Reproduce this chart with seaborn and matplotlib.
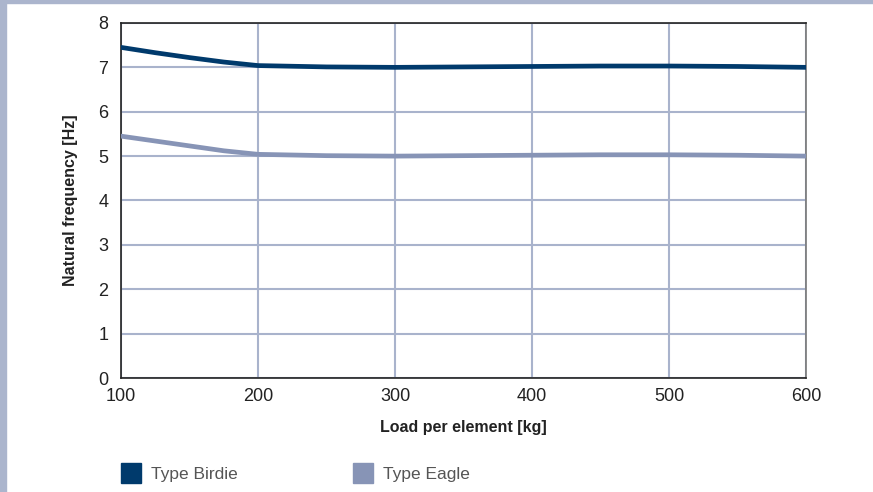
import pandas as pd
import numpy as np
import matplotlib.pyplot as plt
import seaborn as sns
from matplotlib.lines import Line2D
from matplotlib.patches import Rectangle

# values
load = [100, 125, 150, 175, 200, 250, 300, 350, 400, 450, 500, 550, 600]
birdie = [7.45, 7.33, 7.22, 7.12, 7.04, 7.01, 7.00, 7.01, 7.02, 7.03, 7.03, 7.02, 7.00]
eagle = [5.45, 5.34, 5.23, 5.12, 5.04, 5.01, 5.00, 5.01, 5.02, 5.03, 5.03, 5.02, 5.00]
series_names = ['Type Birdie', 'Type Eagle']
x_ticks = [100, 200, 300, 400, 500, 600]
y_ticks = [0, 1, 2, 3, 4, 5, 6, 7, 8]

df = pd.DataFrame({
    'Load': load * 2,
    'Freq': birdie + eagle,
    'Type': [series_names[0]] * len(load) + [series_names[1]] * len(load),
})

sns.set_style('white')
plt.rcParams['font.family'] = ['Liberation Sans', 'DejaVu Sans']

colors = {'Type Birdie': '#003a6c', 'Type Eagle': '#8794b6'}
grid_col = '#a9b3cc'

fig = plt.figure(figsize=(8.73, 4.92), dpi=100)
ax = fig.add_axes([0.1386, 0.2317, 0.7847, 0.7216])

sns.lineplot(data=df, x='Load', y='Freq', hue='Type', palette=colors,
             linewidth=3.4, ax=ax, legend=False, zorder=3)
for ln in ax.lines:
    ln.set_solid_joinstyle('round')

ax.set_xlim(100, 600)
ax.set_ylim(0, 8)
ax.set_xticks(x_ticks)
ax.set_yticks(y_ticks)
ax.grid(True, color=grid_col, linewidth=1.5)
ax.set_axisbelow(True)
ax.tick_params(length=0, labelsize=13, labelcolor='#222222')
ax.tick_params(axis='y', pad=9)
ax.tick_params(axis='x', pad=7)
for s in ['left', 'bottom', 'top']:
    ax.spines[s].set_color('#222222')
    ax.spines[s].set_linewidth(1.2)
ax.spines['right'].set_color('#777777')
ax.spines['right'].set_linewidth(1.2)

ax.set_xlabel('Load per element [kg]', fontsize=11.5, fontweight='semibold',
              color='#222222', labelpad=11)
ax.set_ylabel('Natural frequency [Hz]', fontsize=11.5, fontweight='semibold',
              color='#222222', labelpad=15)

handles = [Line2D([], [], marker='s', linestyle='none', markersize=14,
                  markerfacecolor=colors[n], markeredgecolor=colors[n]) for n in series_names]
leg = fig.legend(handles, series_names, loc='lower left', bbox_to_anchor=(0.121, -0.012),
                 ncol=2, frameon=False, fontsize=12.5, handletextpad=0.58,
                 columnspacing=6.6, handlelength=1.15)
for t in leg.get_texts():
    t.set_color('#555555')

# light frame band at top and left
fig.add_artist(Rectangle((0, 1 - 3 / 492), 1, 3 / 492, transform=fig.transFigure,
                         color='#abb5cd', zorder=10))
fig.add_artist(Rectangle((0, 0), 6 / 873, 1, transform=fig.transFigure,
                         color='#abb5cd', zorder=10))

fig.savefig('out.png', dpi=100)
